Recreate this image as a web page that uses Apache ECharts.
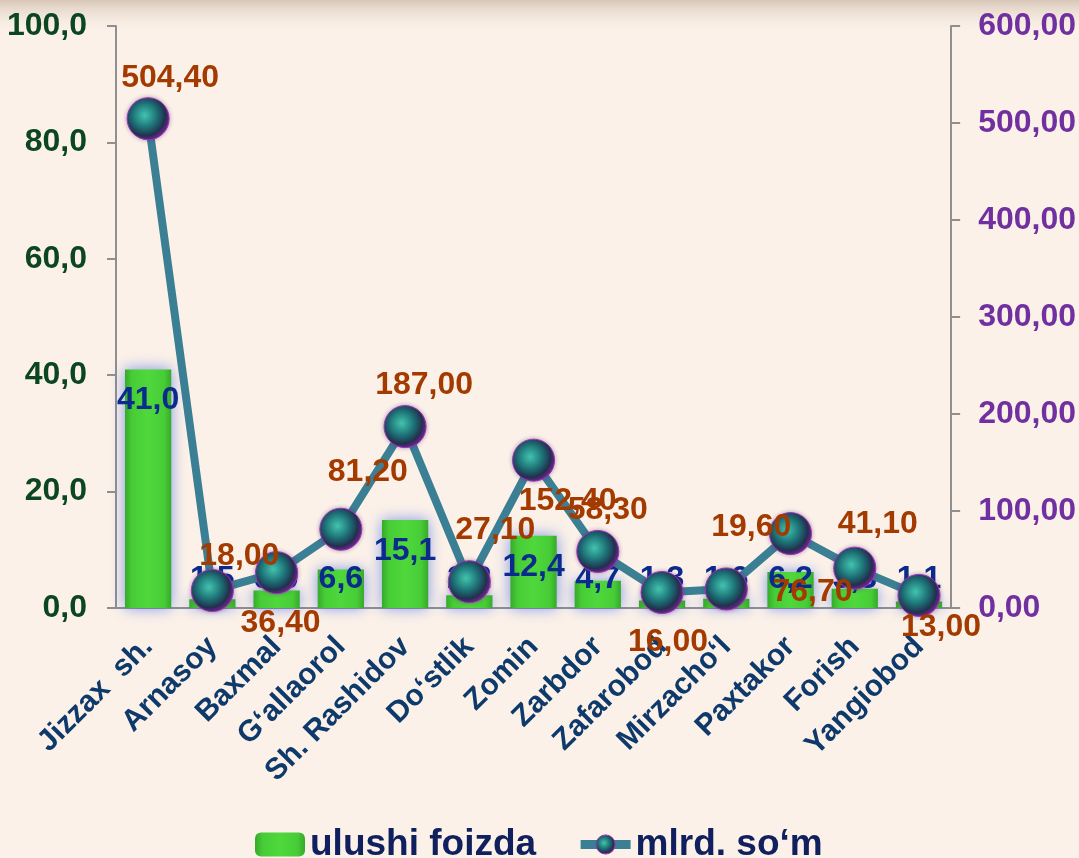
<!DOCTYPE html>
<html>
<head>
<meta charset="utf-8">
<script src="https://cdn.jsdelivr.net/npm/echarts@6/dist/echarts.min.js"></script>
<style>
  html, body, #main {
    margin: 0;
    padding: 0;
    width: 100%;
    height: 100%;
    overflow: hidden;
    background: #fbf1e8;
  }
</style>
</head>
<body>
<div id="main"></div>
<script>
// tumanlar
var categories = ["Jizzax  sh.", "Arnasoy", "Baxmal", "G‘allaorol", "Sh. Rashidov", "Do‘stlik",
  "Zomin", "Zarbdor", "Zafarobod", "Mirzacho‘l", "Paxtakor", "Forish", "Yangiobod"];
// ulushi foizda (chap o'q)
var shareValues = [41.0, 1.5, 3.0, 6.6, 15.1, 2.2, 12.4, 4.7, 1.3, 1.6, 6.2, 3.3, 1.1];
// mlrd. so'm (o'ng o'q)
var amountValues = [504.40, 18.00, 36.40, 81.20, 187.00, 27.10, 152.40, 58.30, 16.00, 19.60, 76.70, 41.10, 13.00];
var leftTicks = [0, 20, 40, 60, 80, 100];
var rightTicks = [0, 100, 200, 300, 400, 500, 600];

// label offsets for the line values (as they sit in the original)
var lineLabelOffsets = [[22, -41], [27, -34], [4, 50], [27, -57], [19, -41], [26, -52], [34, 41],
  [10, -41], [6, 50], [25, -62], [22, 59], [23, -44], [22, 32]];

var font = "Liberation Sans, Arial, sans-serif";
var comma = function (v, d) { return v.toFixed(d).replace(".", ","); };

var sphere = {
  type: "radial", x: 0.42, y: 0.42, r: 0.6,
  colorStops: [
    { offset: 0, color: "#42c4ae" },
    { offset: 0.5, color: "#1c6e74" },
    { offset: 0.8, color: "#23304e" },
    { offset: 1, color: "#7a2398" }
  ]
};

var barData = shareValues.map(function (v) {
  var big = v > 10.5;
  return {
    value: v,
    label: big ? { position: "insideTop", distance: 15 } : { position: "insideBottom", distance: 13 }
  };
});

var lineData = amountValues.map(function (v, i) {
  return { value: v, label: { position: "inside", offset: lineLabelOffsets[i] } };
});

var myChart = echarts.init(document.getElementById("main"), null, { renderer: "canvas" });
myChart.setOption({
  backgroundColor: "#fbf1e8",
  animation: false,
  textStyle: { fontFamily: font },
  graphic: [{
    type: "rect",
    left: 0, top: 0, z: -1,
    shape: { width: 1079, height: 34 },
    style: {
      fill: {
        type: "linear", x: 0, y: 0, x2: 0, y2: 1,
        colorStops: [
          { offset: 0, color: "rgba(150,120,95,0.35)" },
          { offset: 1, color: "rgba(250,240,230,0)" }
        ]
      }
    }
  }],
  grid: { left: 116, right: 127, top: 26, bottom: 250 },
  legend: {
    left: 250,
    top: 821,
    itemWidth: 50,
    itemHeight: 24,
    itemGap: 40,
    lineStyle: { width: 9, color: "#3a7f93" },
    textStyle: { fontSize: 37, fontWeight: "bold", color: "#10205e", fontFamily: font },
    data: [
      { name: "ulushi foizda" },
      { name: "mlrd. so‘m", itemStyle: { color: sphere, borderColor: "#9b35b8", borderWidth: 1 } }
    ]
  },
  xAxis: {
    type: "category",
    data: categories,
    axisLine: { lineStyle: { color: "#8f8f8f", width: 2 } },
    axisTick: { show: false },
    axisLabel: {
      rotate: 45,
      interval: 0,
      margin: 34,
      fontSize: 30,
      fontWeight: "bold",
      color: "#0e3a6b",
      fontFamily: font
    }
  },
  yAxis: [{
    type: "value",
    min: leftTicks[0],
    max: leftTicks[leftTicks.length - 1],
    interval: 20,
    position: "left",
    splitLine: { show: false },
    axisLine: { show: true, lineStyle: { color: "#8f8f8f", width: 2 } },
    axisTick: { show: true, length: 9, lineStyle: { color: "#8f8f8f", width: 2 } },
    axisLabel: {
      margin: 29,
      fontSize: 32,
      fontWeight: "bold",
      color: "#0b4620",
      fontFamily: font,
      formatter: function (v) { return comma(v, 1); }
    }
  }, {
    type: "value",
    min: rightTicks[0],
    max: rightTicks[rightTicks.length - 1],
    interval: 100,
    position: "right",
    splitLine: { show: false },
    axisLine: { show: true, lineStyle: { color: "#8f8f8f", width: 2 } },
    axisTick: { show: true, length: 9, lineStyle: { color: "#8f8f8f", width: 2 } },
    axisLabel: {
      margin: 27,
      fontSize: 32,
      fontWeight: "bold",
      color: "#7030a0",
      fontFamily: font,
      formatter: function (v) { return comma(v, 2); }
    }
  }],
  series: [{
    name: "ulushi foizda",
    type: "bar",
    yAxisIndex: 0,
    barWidth: "72%",
    data: barData,
    itemStyle: {
      color: {
        type: "linear", x: 0, y: 0, x2: 1, y2: 0,
        colorStops: [
          { offset: 0, color: "#36a92a" },
          { offset: 0.15, color: "#47cc36" },
          { offset: 0.5, color: "#4fd83c" },
          { offset: 0.85, color: "#47cc36" },
          { offset: 1, color: "#36a92a" }
        ]
      },
      shadowColor: "rgba(60,100,230,0.65)",
      shadowBlur: 14
    },
    label: {
      show: true,
      fontSize: 32,
      fontWeight: "bold",
      color: "#0a2a8c",
      fontFamily: font,
      formatter: function (p) { return comma(p.value, 1); }
    },
    z: 2
  }, {
    name: "mlrd. so‘m",
    type: "line",
    yAxisIndex: 1,
    data: lineData,
    symbol: "circle",
    symbolSize: 42,
    lineStyle: { color: "#3a7f93", width: 8 },
    itemStyle: {
      color: sphere,
      borderColor: "#9b35b8",
      borderWidth: 1,
      shadowColor: "rgba(90,30,120,0.4)",
      shadowBlur: 4
    },
    label: {
      show: true,
      fontSize: 32,
      fontWeight: "bold",
      color: "#a33a00",
      fontFamily: font,
      formatter: function (p) { return comma(p.value, 2); }
    },
    z: 5
  }]
});

window.onresize = myChart.resize;
</script>
</body>
</html>
